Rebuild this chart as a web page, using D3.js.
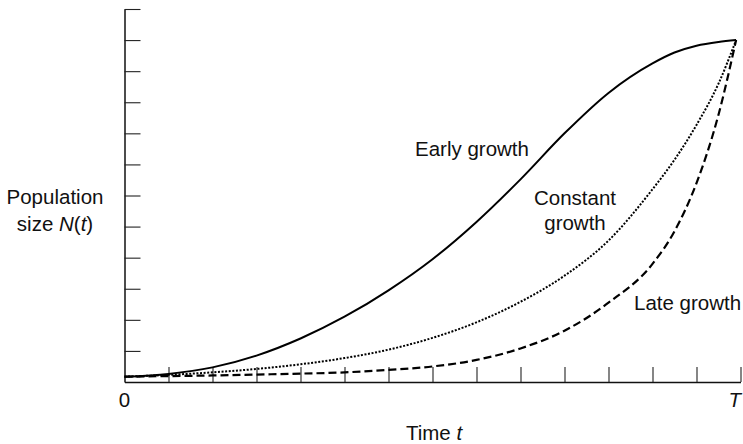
<!DOCTYPE html>
<html>
<head>
<meta charset="utf-8">
<script src="https://cdnjs.cloudflare.com/ajax/libs/d3/7.8.5/d3.min.js"></script>
<style>
  html, body { margin: 0; padding: 0; background: #fff; }
  svg { display: block; }
  text { font-family: "Liberation Sans", Arial, Helvetica, sans-serif; fill: #111; }
</style>
</head>
<body>
<svg id="chart" width="743" height="444"></svg>
<script>
// Time points (in tick units along the time axis) and population sizes for each scenario
const timePoints   = [0, 1, 2, 3, 4, 5, 6, 7, 8, 9, 10, 11, 12, 12.5, 13, 13.5, 13.9];
const earlyGrowth  = [0.17, 0.26, 0.47, 0.85, 1.4, 2.1, 2.95, 3.95, 5.15, 6.52, 8.0, 9.3, 10.25, 10.6, 10.82, 10.94, 11.0];
const constGrowth  = [0.17, 0.23, 0.31, 0.42, 0.57, 0.77, 1.04, 1.42, 1.92, 2.58, 3.42, 4.55, 6.2, 7.15, 8.27, 9.6, 11.0];
const lateGrowth   = [0.17, 0.19, 0.21, 0.24, 0.27, 0.31, 0.39, 0.5, 0.71, 1.08, 1.65, 2.55, 3.8, 4.85, 6.4, 8.6, 11.0];

const xTicks = d3.range(1, 15);
const yTicks = d3.range(1, 13);
const xEndLabels = ["0", "T"];

const seriesLabels = [
  { lines: ["Early growth"], x: 415, y: 156, anchor: "start" },
  { lines: ["Constant", "growth"], x: 575, y: 205, anchor: "middle" },
  { lines: ["Late growth"], x: 634, y: 310, anchor: "start" }
];

const FONT = 20.5;
const svg = d3.select("#chart");

const x = d3.scaleLinear().domain([0, 14]).range([124.5, 740.5]);
const y = d3.scaleLinear().domain([0, 12]).range([382, 9]);

// Axes: ticks point into the plot area, no numeric labels
const xAxis = d3.axisBottom(x).tickValues(xTicks).tickSize(-15).tickSizeOuter(0).tickFormat("");
const yAxis = d3.axisLeft(y).tickValues(yTicks).tickSize(-16).tickSizeOuter(0).tickFormat("");

const gx = svg.append("g").attr("transform", `translate(0,${y(0)})`).call(xAxis);
const gy = svg.append("g").attr("transform", `translate(${x(0)},0)`).call(yAxis);
[gx, gy].forEach(g => {
  g.select(".domain").attr("stroke", "#111").attr("stroke-width", 1.5);
  g.selectAll(".tick line").attr("stroke", "#222").attr("stroke-width", 1.1);
});

// Curves
const line = d3.line()
  .x(d => x(d[0]))
  .y(d => y(d[1]))
  .curve(d3.curveMonotoneX);

const series = [
  { values: earlyGrowth, dash: null, width: 2, cap: "butt" },
  { values: constGrowth, dash: "2,1.6", width: 2, cap: "butt" },
  { values: lateGrowth, dash: "8,4", width: 2.2, cap: "butt" }
];

series.forEach(s => {
  svg.append("path")
    .datum(timePoints.map((t, i) => [t, s.values[i]]))
    .attr("d", line)
    .attr("fill", "none")
    .attr("stroke", "#000")
    .attr("stroke-width", s.width)
    .attr("stroke-linecap", s.cap)
    .attr("stroke-dasharray", s.dash);
});

// Series labels
seriesLabels.forEach(l => {
  const t = svg.append("text")
    .attr("x", l.x).attr("y", l.y)
    .attr("text-anchor", l.anchor)
    .attr("font-size", FONT);
  l.lines.forEach((s, i) => {
    t.append("tspan").attr("x", l.x).attr("dy", i === 0 ? 0 : 25).text(s);
  });
});

// Axis end labels
svg.append("text").attr("x", x(0)).attr("y", 407).attr("text-anchor", "middle")
  .attr("font-size", FONT).text(xEndLabels[0]);
svg.append("text").attr("x", 741).attr("y", 407).attr("text-anchor", "end")
  .attr("font-size", FONT).attr("font-style", "italic").text(xEndLabels[1]);

// Axis titles
const xt = svg.append("text").attr("x", 434).attr("y", 440).attr("text-anchor", "middle").attr("font-size", FONT);
xt.append("tspan").text("Time ");
xt.append("tspan").attr("font-style", "italic").text("t");

svg.append("text").attr("x", 55).attr("y", 204).attr("text-anchor", "middle")
  .attr("font-size", FONT).text("Population");
const yt2 = svg.append("text").attr("x", 55).attr("y", 231).attr("text-anchor", "middle").attr("font-size", FONT);
yt2.append("tspan").text("size ");
yt2.append("tspan").attr("font-style", "italic").text("N");
yt2.append("tspan").text("(");
yt2.append("tspan").attr("font-style", "italic").text("t");
yt2.append("tspan").text(")");
</script>
</body>
</html>
